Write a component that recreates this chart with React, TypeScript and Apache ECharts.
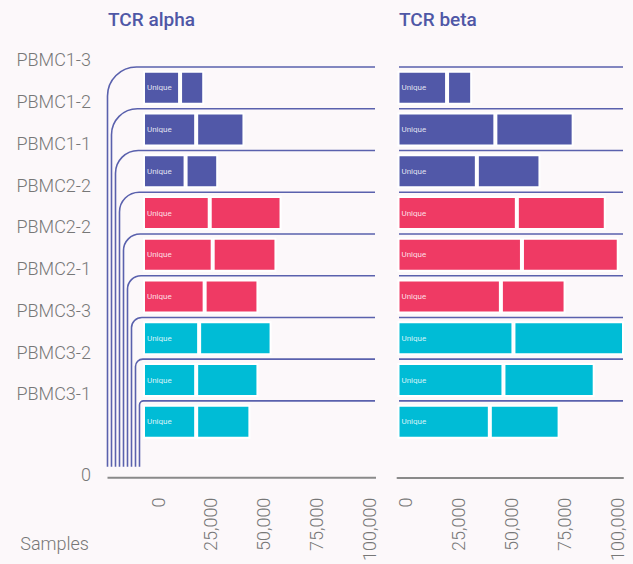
import React, { useEffect, useRef } from "react";
import * as echarts from "echarts";

const categories = ["PBMC1-3", "PBMC1-2", "PBMC1-1", "PBMC2-2", "PBMC2-2", "PBMC2-1", "PBMC3-3", "PBMC3-2", "PBMC3-1"];
const rowGroup = [0, 0, 0, 1, 1, 1, 2, 2, 2];
const groupColors = ["#5158a8", "#ef3a64", "#00bcd6"];

const alphaUnique = [17500, 25100, 20100, 31500, 32900, 29100, 26500, 25100, 25100];
const alphaOther = [11400, 22800, 15400, 33900, 30100, 25400, 34200, 29400, 25600];
const betaUnique = [23300, 46000, 37300, 56100, 58500, 48600, 54500, 49800, 43400];
const betaOther = [11800, 36800, 29900, 41800, 45500, 30400, 53000, 42900, 32800];

const tickValues = [0, 25000, 50000, 75000, 100000];
const titles = ["TCR alpha", "TCR beta"];
const uniqueLabel = "Unique";
const bottomLabels = ["0", "Samples"];

const LINE = "#5a61ad";
const GRAY = "#777777";
const FONT = "Roboto";

export default function App() {
  const ref = useRef<HTMLDivElement>(null);
  useEffect(() => {
    document.body.style.margin = "0";
    document.body.style.background = "#fcf8fa";
    const chart = echarts.init(ref.current!, null, { renderer: "svg" });

    const barData = (vals: number[]) =>
      vals.map((v, i) => ({ value: v, itemStyle: { color: groupColors[rowGroup[i]] } }));

    const barSeries = (xi: number, uniq: number[], other: number[]) => [
      {
        type: "bar",
        xAxisIndex: xi,
        yAxisIndex: xi,
        stack: "s" + xi,
        barWidth: 34,
        data: barData(uniq),
        itemStyle: { borderColor: "#ffffff", borderWidth: 2 },
        label: {
          show: true,
          position: "insideLeft",
          distance: 4,
          formatter: () => uniqueLabel,
          color: "rgba(255,255,255,0.85)",
          fontSize: 8,
          fontFamily: FONT,
        },
        silent: true,
      },
      {
        type: "bar",
        xAxisIndex: xi,
        yAxisIndex: xi,
        stack: "s" + xi,
        barWidth: 34,
        data: barData(other),
        itemStyle: { borderColor: "#ffffff", borderWidth: 2 },
        silent: true,
      },
    ];

    const xAxisBase = (max: number, shift: number, showLine: boolean, grid: number) => ({
      type: "value",
      gridIndex: grid,
      min: 0,
      max,
      interval: 25000,
      offset: 35,
      splitLine: { show: false },
      axisTick: { show: false },
      axisLine: { show: showLine, lineStyle: { color: "#8a8a8a", width: 2 } },
      axisLabel: {
        rotate: 90,
        margin: 20,
        fontSize: 18,
        fontWeight: 300,
        fontFamily: FONT,
        color: GRAY,
        showMaxLabel: false,
        align: "right",
        verticalAlign: "top",
        lineHeight: shift * 2,
        formatter: (v: number) => (tickValues.includes(v) ? v.toLocaleString("en-US") : ""),
      },
    });

    const option: any = {
      animation: false,
      backgroundColor: "#fcf8fa",
      title: [
        { text: titles[0], left: 103, top: 5, textStyle: { color: "#4f57a6", fontSize: 19, fontWeight: 500, fontFamily: FONT } },
        { text: titles[1], left: 394, top: 5, textStyle: { color: "#4f57a6", fontSize: 19, fontWeight: 500, fontFamily: FONT } },
      ],
      grid: [
        { left: 143, top: 67, width: 233, height: 378 },
        { left: 397.5, top: 67, width: 225.5, height: 378 },
      ],
      xAxis: [xAxisBase(110000, 15, false, 0), xAxisBase(106000, 7.5, true, 1)],
      yAxis: [
        {
          type: "category",
          gridIndex: 0,
          data: categories,
          inverse: true,
          axisLine: { show: false },
          axisTick: { show: false },
          axisLabel: {
            interval: 0,
            showMinLabel: true,
            showMaxLabel: true,
            hideOverlap: false,
            margin: 52,
            fontSize: 18,
            fontWeight: 300,
            fontFamily: FONT,
            color: GRAY,
            verticalAlign: "bottom",
            lineHeight: 56,
          },
        },
        { type: "category", gridIndex: 1, data: categories, inverse: true, show: false },
      ],
      graphic: [
        {
          type: "text",
          x: 91,
          y: 474,
          style: { text: bottomLabels[0], fill: GRAY, fontSize: 18, fontWeight: 300, fontFamily: FONT, align: "right", verticalAlign: "middle", textAlign: "right", textVerticalAlign: "middle" },
        },
        {
          type: "text",
          x: 89,
          y: 543,
          style: { text: bottomLabels[1], fill: GRAY, fontSize: 18, fontWeight: 300, fontFamily: FONT, align: "right", verticalAlign: "middle", textAlign: "right", textVerticalAlign: "middle" },
        },
      ],
      series: [
        {
          type: "custom",
          xAxisIndex: 0,
          yAxisIndex: 0,
          silent: true,
          data: categories.map((_, i) => [0, i]),
          encode: { x: 0, y: 1 },
          renderItem: (params: any, api: any) => {
            const i = api.value(1);
            const c = api.coord([0, i]);
            const bh = api.size([0, 1])[1];
            const cs = params.coordSys;
            const yTop = c[1] - bh / 2;
            const xv = c[0] - 35.5 + 4 * i;
            const r = Math.max(4, 29 - 3.1 * i);
            const yB = cs.y + cs.height + 24;
            const xEnd = cs.x + cs.width - 1;
            const k = 0.5523 * r;
            const d = `M ${xv} ${yB} L ${xv} ${yTop + r} C ${xv} ${yTop + r - k} ${xv + r - k} ${yTop} ${xv + r} ${yTop} L ${xEnd} ${yTop}`;
            const children: any[] = [
              { type: "path", shape: { pathData: d }, style: { fill: "none", stroke: LINE, lineWidth: 1.6 } },
            ];
            if (i === 0) {
              const yAx = cs.y + cs.height + 35;
              children.push({
                type: "line",
                shape: { x1: xv, y1: yAx, x2: cs.x + cs.width, y2: yAx },
                style: { stroke: "#8a8a8a", lineWidth: 2 },
              });
            }
            return { type: "group", children };
          },
        },
        {
          type: "custom",
          xAxisIndex: 1,
          yAxisIndex: 1,
          silent: true,
          data: categories.map((_, i) => [0, i]),
          encode: { x: 0, y: 1 },
          renderItem: (params: any, api: any) => {
            const i = api.value(1);
            const c = api.coord([0, i]);
            const bh = api.size([0, 1])[1];
            const cs = params.coordSys;
            const yTop = c[1] - bh / 2;
            return {
              type: "line",
              shape: { x1: cs.x + 1.5, y1: yTop, x2: cs.x + cs.width, y2: yTop },
              style: { stroke: LINE, lineWidth: 1.6 },
            };
          },
        },
        ...barSeries(0, alphaUnique, alphaOther),
        ...barSeries(1, betaUnique, betaOther),
      ],
    };
    chart.setOption(option);
    return () => chart.dispose();
  }, []);
  return <div ref={ref} style={{ width: 633, height: 564 }} />;
}
